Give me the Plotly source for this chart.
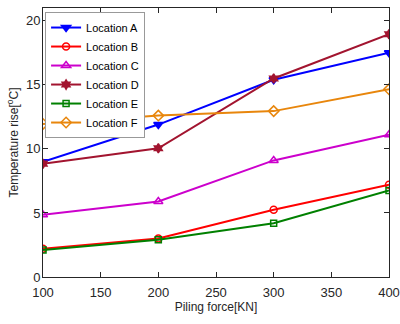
import plotly.graph_objects as go

force = [100, 200, 300, 400]
loc_a = [9.0, 11.9, 15.4, 17.5]
loc_b = [2.2, 3.0, 5.25, 7.2]
loc_c = [4.85, 5.9, 9.1, 11.1]
loc_d = [8.85, 10.05, 15.5, 18.95]
loc_e = [2.1, 2.9, 4.2, 6.75]
loc_f = [11.95, 12.6, 12.95, 14.65]

series = [
    ("Location A", loc_a, "#0000ff", "triangle-down", 8),
    ("Location B", loc_b, "#ff0000", "circle-open", 7),
    ("Location C", loc_c, "#cc00cc", "triangle-up-open", 8),
    ("Location D", loc_d, "#a2142f", "hexagram", 7),
    ("Location E", loc_e, "#008000", "square-open", 6),
    ("Location F", loc_f, "#e8860c", "diamond-open", 8),
]

fig = go.Figure()
for name, vals, color, sym, sz in series:
    fig.add_trace(go.Scatter(
        x=force, y=vals, name=name, mode="lines+markers",
        line=dict(color=color, width=2),
        marker=dict(symbol=sym, size=sz, color=color, line=dict(color=color, width=1.5)),
    ))

axis_common = dict(
    showgrid=False, zeroline=False, showline=True, linecolor="#262626", linewidth=1,
    mirror="ticks", ticks="inside", ticklen=5, tickcolor="#262626",
    tickfont=dict(family="Liberation Sans, Arial", size=13, color="#262626"),
    automargin=False,
)

fig.update_layout(
    width=400, height=324,
    margin=dict(l=43, r=11, t=8, b=47),
    paper_bgcolor="white", plot_bgcolor="white",
    font=dict(family="Liberation Sans, Arial", color="#262626"),
    xaxis=dict(range=[100, 400], tickvals=[100, 150, 200, 250, 300, 350, 400],
               title=dict(text="Piling force[KN]", font=dict(size=12), standoff=4),
               ticklabelstandoff=3,
               **axis_common),
    yaxis=dict(range=[0, 21], tickvals=[0, 5, 10, 15, 20],
               title=dict(text="Temperature rise[<sup>o</sup>C]", font=dict(size=12), standoff=4),
               ticklabelstandoff=-1,
               **axis_common),
    legend=dict(x=0.006, y=0.985, xanchor="left", yanchor="top",
                bgcolor="white", bordercolor="#999999", borderwidth=1,
                font=dict(size=11, color="black"), tracegroupgap=0,
                itemwidth=30),
    showlegend=True,
)

fig.write_html("out.html")
